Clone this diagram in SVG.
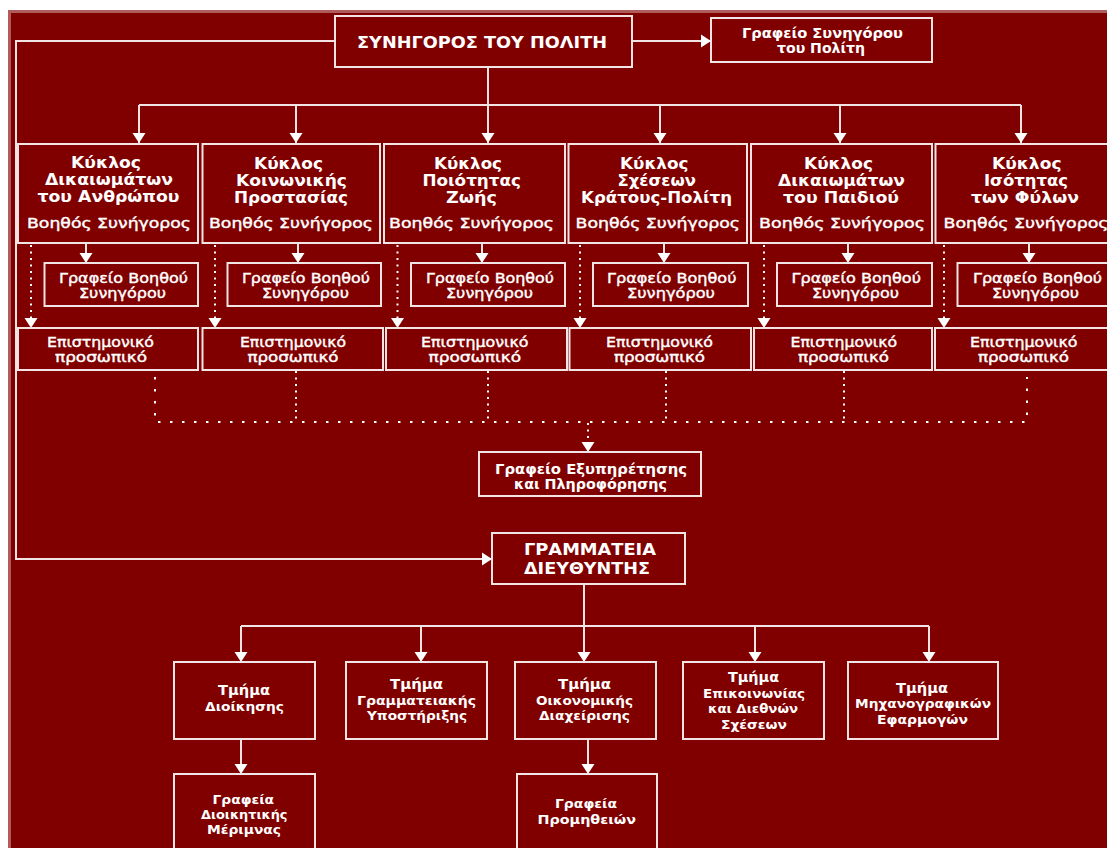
<svg xmlns="http://www.w3.org/2000/svg" width="1107" height="848" viewBox="0 0 1107 848">
<style>
text{font-family:"DejaVu Sans","Liberation Sans",sans-serif;fill:#fff;font-weight:bold;font-size:14px}
.h{font-size:16px}
.t{font-size:15px}
.m{font-weight:normal;font-size:14px;stroke:#fff;stroke-width:.4px}
.s{font-size:13px}
.n{fill:none;stroke:#f2e4e4;stroke-width:2}
.l{fill:none;stroke:#f2e4e4;stroke-width:2}
.a{marker-end:url(#ah)}
.d{fill:none;stroke:#fff;stroke-width:2;stroke-dasharray:2 4.5}
.w{fill:none;stroke:#fff;stroke-width:2;stroke-dasharray:2.5 9.5}
</style>
<defs>
<marker id="ah" markerUnits="userSpaceOnUse" markerWidth="10" markerHeight="14" refX="10" refY="7" orient="auto"><path d="M0 0.5L10 7L0 13.5z" fill="#fff"/></marker>
</defs>
<rect x="0" y="0" width="1107" height="848" fill="#fff"/>
<rect x="8" y="10" width="1099" height="838" fill="#b05c5c"/>
<rect x="11" y="13" width="1096" height="835" fill="#800000"/>
<g id="connectors">
<path class="l a" d="M335 41H16V559H492"/>
<path class="l a" d="M632 41H711"/>
<path class="l" d="M139 105H1021"/>
<path class="l a" d="M488 67V143"/>
<path class="l a" d="M139 105V143"/>
<path class="l a" d="M296 105V143"/>
<path class="l a" d="M660 105V143"/>
<path class="l a" d="M840 105V143"/>
<path class="l a" d="M1021 105V143"/>
<path class="l a" d="M86 243V263"/>
<path class="l a" d="M298 243V263"/>
<path class="l a" d="M482 243V263"/>
<path class="l a" d="M664 243V263"/>
<path class="l a" d="M848 243V263"/>
<path class="l a" d="M1029 243V263"/>
<path class="d a" d="M31 245V328"/>
<path class="d a" d="M215 245V328"/>
<path class="d a" d="M397.500 245V328"/>
<path class="d a" d="M580 245V328"/>
<path class="d a" d="M764 245V328"/>
<path class="d a" d="M944 245V328"/>
<path class="w" d="M155 377V422H1027V377"/>
<path class="d" d="M296 371V422"/>
<path class="d" d="M488 371V422"/>
<path class="d" d="M666 371V422"/>
<path class="d" d="M844 371V422"/>
<path class="d a" d="M588 423V452"/>
<path class="l" d="M241 626H929"/>
<path class="l a" d="M584 584V662"/>
<path class="l a" d="M241 626V662"/>
<path class="l a" d="M421 626V662"/>
<path class="l a" d="M755 626V662"/>
<path class="l a" d="M929 626V662"/>
<path class="l a" d="M241 739V774"/>
<path class="l a" d="M588 739V774"/>
</g>
<g id="n-top"><rect class="n" x="335" y="16" width="297" height="51"/><text class="h" x="357" y="48" textLength="250" lengthAdjust="spacingAndGlyphs">ΣΥΝΗΓΟΡΟΣ ΤΟΥ ΠΟΛΙΤΗ</text></g>
<g id="n-office"><rect class="n" x="711" y="18" width="221" height="44"/><text x="742" y="38" textLength="161" lengthAdjust="spacingAndGlyphs">Γραφείο Συνηγόρου</text><text x="777" y="53" textLength="88" lengthAdjust="spacingAndGlyphs">του Πολίτη</text></g>
<g id="k1"><rect class="n" x="18" y="144" width="180" height="99"/><text class="h" x="71" y="168" textLength="70" lengthAdjust="spacingAndGlyphs">Κύκλος</text><text class="t" x="45" y="185" textLength="128" lengthAdjust="spacingAndGlyphs">Δικαιωμάτων</text><text class="t" x="37.500" y="202" textLength="142" lengthAdjust="spacingAndGlyphs">του Ανθρώπου</text><text class="m" x="27" y="228" textLength="164" lengthAdjust="spacingAndGlyphs">Βοηθός Συνήγορος</text></g>
<g id="k2"><rect class="n" x="202.500" y="144" width="177.500" height="99"/><text class="h" x="254" y="169" textLength="69" lengthAdjust="spacingAndGlyphs">Κύκλος</text><text class="t" x="236" y="186" textLength="111" lengthAdjust="spacingAndGlyphs">Κοινωνικής</text><text class="t" x="234" y="203" textLength="114" lengthAdjust="spacingAndGlyphs">Προστασίας</text><text class="m" x="209" y="228" textLength="164" lengthAdjust="spacingAndGlyphs">Βοηθός Συνήγορος</text></g>
<g id="k3"><rect class="n" x="384" y="144" width="181" height="99"/><text class="h" x="434" y="169" textLength="68" lengthAdjust="spacingAndGlyphs">Κύκλος</text><text class="t" x="422.500" y="186" textLength="98.500" lengthAdjust="spacingAndGlyphs">Ποιότητας</text><text class="t" x="446" y="203" textLength="51" lengthAdjust="spacingAndGlyphs">Ζωής</text><text class="m" x="389" y="228" textLength="165" lengthAdjust="spacingAndGlyphs">Βοηθός Συνήγορος</text></g>
<g id="k4"><rect class="n" x="568.500" y="144" width="178.500" height="99"/><text class="h" x="620" y="169" textLength="68.500" lengthAdjust="spacingAndGlyphs">Κύκλος</text><text class="t" x="617.500" y="186" textLength="78.500" lengthAdjust="spacingAndGlyphs">Σχέσεων</text><text class="t" x="581" y="203" textLength="151" lengthAdjust="spacingAndGlyphs">Κράτους-Πολίτη</text><text class="m" x="575.500" y="228" textLength="164.500" lengthAdjust="spacingAndGlyphs">Βοηθός Συνήγορος</text></g>
<g id="k5"><rect class="n" x="751" y="144" width="181" height="99"/><text class="h" x="804" y="169" textLength="69" lengthAdjust="spacingAndGlyphs">Κύκλος</text><text class="t" x="778" y="186" textLength="127" lengthAdjust="spacingAndGlyphs">Δικαιωμάτων</text><text class="t" x="783" y="203" textLength="116" lengthAdjust="spacingAndGlyphs">του Παιδιού</text><text class="m" x="759" y="228" textLength="166" lengthAdjust="spacingAndGlyphs">Βοηθός Συνήγορος</text></g>
<g id="k6"><rect class="n" x="935.500" y="144" width="180" height="99"/><text class="h" x="992" y="169" textLength="69.500" lengthAdjust="spacingAndGlyphs">Κύκλος</text><text class="t" x="984" y="186" textLength="84" lengthAdjust="spacingAndGlyphs">Ισότητας</text><text class="t" x="971" y="203" textLength="108" lengthAdjust="spacingAndGlyphs">των Φύλων</text><text class="m" x="943.500" y="228" textLength="165" lengthAdjust="spacingAndGlyphs">Βοηθός Συνήγορος</text></g>
<g id="g1"><rect class="n" x="44.500" y="263" width="153.500" height="43"/><text class="m" x="59" y="283" textLength="129" lengthAdjust="spacingAndGlyphs">Γραφείο Βοηθού</text><text class="m" x="79" y="298" textLength="87" lengthAdjust="spacingAndGlyphs">Συνηγόρου</text></g>
<g id="g2"><rect class="n" x="227.500" y="263" width="153.500" height="43"/><text class="m" x="242" y="283" textLength="128" lengthAdjust="spacingAndGlyphs">Γραφείο Βοηθού</text><text class="m" x="262" y="298" textLength="87" lengthAdjust="spacingAndGlyphs">Συνηγόρου</text></g>
<g id="g3"><rect class="n" x="411" y="263" width="154" height="43"/><text class="m" x="426" y="283" textLength="128" lengthAdjust="spacingAndGlyphs">Γραφείο Βοηθού</text><text class="m" x="446" y="298" textLength="87" lengthAdjust="spacingAndGlyphs">Συνηγόρου</text></g>
<g id="g4"><rect class="n" x="593" y="263" width="155" height="43"/><text class="m" x="607" y="283" textLength="129.500" lengthAdjust="spacingAndGlyphs">Γραφείο Βοηθού</text><text class="m" x="627" y="298" textLength="88" lengthAdjust="spacingAndGlyphs">Συνηγόρου</text></g>
<g id="g5"><rect class="n" x="777" y="263" width="155" height="43"/><text class="m" x="791.500" y="283" textLength="129.500" lengthAdjust="spacingAndGlyphs">Γραφείο Βοηθού</text><text class="m" x="812" y="298" textLength="87" lengthAdjust="spacingAndGlyphs">Συνηγόρου</text></g>
<g id="g6"><rect class="n" x="957.500" y="263" width="160" height="43"/><text class="m" x="973" y="283" textLength="129" lengthAdjust="spacingAndGlyphs">Γραφείο Βοηθού</text><text class="m" x="992" y="298" textLength="87" lengthAdjust="spacingAndGlyphs">Συνηγόρου</text></g>
<g id="e1"><rect class="n" x="18" y="328" width="180" height="42"/><text class="m" x="47" y="347" textLength="107" lengthAdjust="spacingAndGlyphs">Επιστημονικό</text><text class="m" x="55" y="362" textLength="92" lengthAdjust="spacingAndGlyphs">προσωπικό</text></g>
<g id="e2"><rect class="n" x="202.500" y="328" width="180.500" height="42"/><text class="m" x="240" y="347" textLength="106" lengthAdjust="spacingAndGlyphs">Επιστημονικό</text><text class="m" x="247.500" y="362" textLength="91" lengthAdjust="spacingAndGlyphs">προσωπικό</text></g>
<g id="e3"><rect class="n" x="386" y="328" width="181" height="42"/><text class="m" x="421" y="347" textLength="107.500" lengthAdjust="spacingAndGlyphs">Επιστημονικό</text><text class="m" x="428.500" y="362" textLength="92.500" lengthAdjust="spacingAndGlyphs">προσωπικό</text></g>
<g id="e4"><rect class="n" x="569.500" y="328" width="181.500" height="42"/><text class="m" x="606" y="347" textLength="107" lengthAdjust="spacingAndGlyphs">Επιστημονικό</text><text class="m" x="614" y="362" textLength="91" lengthAdjust="spacingAndGlyphs">προσωπικό</text></g>
<g id="e5"><rect class="n" x="754" y="328" width="178" height="42"/><text class="m" x="790.500" y="347" textLength="106.500" lengthAdjust="spacingAndGlyphs">Επιστημονικό</text><text class="m" x="798" y="362" textLength="91" lengthAdjust="spacingAndGlyphs">προσωπικό</text></g>
<g id="e6"><rect class="n" x="935" y="328" width="180" height="42"/><text class="m" x="970" y="347" textLength="107.500" lengthAdjust="spacingAndGlyphs">Επιστημονικό</text><text class="m" x="978" y="362" textLength="91" lengthAdjust="spacingAndGlyphs">προσωπικό</text></g>
<g id="n-service"><rect class="n" x="479" y="452" width="222" height="44"/><text x="495" y="474" textLength="192" lengthAdjust="spacingAndGlyphs">Γραφείο Εξυπηρέτησης</text><text x="514" y="489" textLength="153" lengthAdjust="spacingAndGlyphs">και Πληροφόρησης</text></g>
<g id="n-sec"><rect class="n" x="492" y="533" width="193" height="51"/><text class="h" x="524" y="555" textLength="132" lengthAdjust="spacingAndGlyphs">ΓΡΑΜΜΑΤΕΙΑ</text><text class="h" x="524" y="574" textLength="126" lengthAdjust="spacingAndGlyphs">ΔΙΕΥΘΥΝΤΗΣ</text></g>
<g id="d1"><rect class="n" x="174" y="662" width="141" height="77"/><text x="218" y="695" textLength="52" lengthAdjust="spacingAndGlyphs">Τμήμα</text><text class="s" x="205" y="711" textLength="79" lengthAdjust="spacingAndGlyphs">Διοίκησης</text></g>
<g id="d2"><rect class="n" x="346" y="662" width="141" height="77"/><text x="390" y="689" textLength="53" lengthAdjust="spacingAndGlyphs">Τμήμα</text><text class="s" x="357" y="705" textLength="119" lengthAdjust="spacingAndGlyphs">Γραμματειακής</text><text class="s" x="367" y="720" textLength="100" lengthAdjust="spacingAndGlyphs">Υποστήριξης</text></g>
<g id="d3"><rect class="n" x="515" y="662" width="141" height="77"/><text x="558" y="689" textLength="53" lengthAdjust="spacingAndGlyphs">Τμήμα</text><text class="s" x="536" y="705" textLength="97" lengthAdjust="spacingAndGlyphs">Οικονομικής</text><text class="s" x="539" y="720" textLength="91" lengthAdjust="spacingAndGlyphs">Διαχείρισης</text></g>
<g id="d4"><rect class="n" x="683" y="662" width="141" height="77"/><text x="728" y="682" textLength="51" lengthAdjust="spacingAndGlyphs">Τμήμα</text><text class="s" x="703" y="698" textLength="102" lengthAdjust="spacingAndGlyphs">Επικοινωνίας</text><text class="s" x="708" y="713" textLength="90" lengthAdjust="spacingAndGlyphs">και Διεθνών</text><text class="s" x="721" y="729" textLength="66" lengthAdjust="spacingAndGlyphs">Σχέσεων</text></g>
<g id="d5"><rect class="n" x="848" y="662" width="150" height="77"/><text x="896" y="693" textLength="52" lengthAdjust="spacingAndGlyphs">Τμήμα</text><text class="s" x="855" y="708" textLength="136" lengthAdjust="spacingAndGlyphs">Μηχανογραφικών</text><text class="s" x="877" y="724" textLength="91" lengthAdjust="spacingAndGlyphs">Εφαρμογών</text></g>
<g id="b1"><rect class="n" x="174" y="774" width="141" height="90"/><text class="s" x="212.500" y="804" textLength="61.500" lengthAdjust="spacingAndGlyphs">Γραφεία</text><text class="s" x="201" y="819" textLength="86.500" lengthAdjust="spacingAndGlyphs">Διοικητικής</text><text class="s" x="207" y="834" textLength="74" lengthAdjust="spacingAndGlyphs">Μέριμνας</text></g>
<g id="b2"><rect class="n" x="517" y="774" width="140" height="90"/><text class="s" x="555" y="808" textLength="62" lengthAdjust="spacingAndGlyphs">Γραφεία</text><text class="s" x="537.500" y="824" textLength="98.500" lengthAdjust="spacingAndGlyphs">Προμηθειών</text></g>
</svg>
